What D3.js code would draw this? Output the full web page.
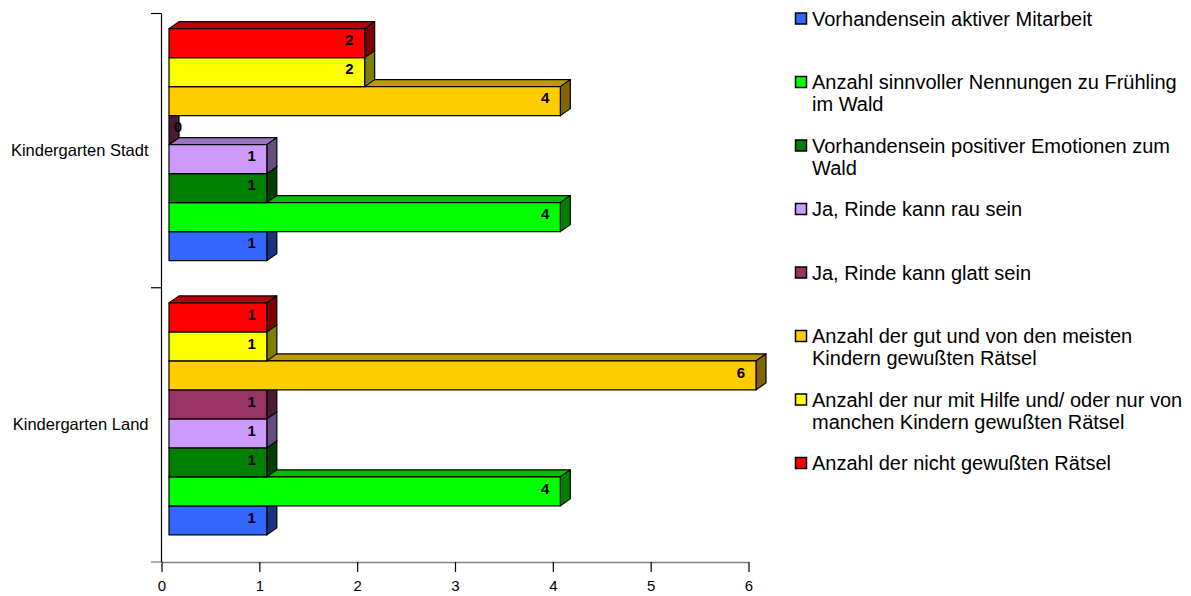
<!DOCTYPE html>
<html>
<head>
<meta charset="utf-8">
<script src="https://cdn.jsdelivr.net/npm/d3@7"></script>
<style>
  html, body { margin: 0; padding: 0; background: #fff; }
  svg { display: block; font-family: "Liberation Sans", Arial, sans-serif; }
</style>
</head>
<body>
<svg id="chart" width="1191" height="596"></svg>
<script>
// Categories, top to bottom
const categories = ["Kindergarten Stadt", "Kindergarten Land"];

// Series (legend order; first series sits at the bottom of each group)
const seriesNames = [
  "Vorhandensein aktiver Mitarbeit",
  "Anzahl sinnvoller Nennungen zu Frühling\nim Wald",
  "Vorhandensein positiver Emotionen zum\nWald",
  "Ja, Rinde kann rau sein",
  "Ja, Rinde kann glatt sein",
  "Anzahl der gut und von den meisten\nKindern gewußten Rätsel",
  "Anzahl der nur mit Hilfe und/ oder nur von\nmanchen Kindern gewußten Rätsel",
  "Anzahl der nicht gewußten Rätsel"
];
const seriesColors = ["#3366FF", "#00FF00", "#008000", "#CC99FF", "#993366", "#FFCC00", "#FFFF00", "#FF0000"];

// Values per category, in series order
const stadtValues = [1, 4, 1, 1, 0, 4, 2, 2];
const landValues  = [1, 4, 1, 1, 1, 6, 1, 1];
const valuesByCategory = { "Kindergarten Stadt": stadtValues, "Kindergarten Land": landValues };

// Value axis ticks
const xTicks = [0, 1, 2, 3, 4, 5, 6];

const svg = d3.select("#chart");

const x = d3.scaleLinear().domain([0, 6]).range([161.5, 748.5]);
const yBand = d3.scaleBand().domain(categories).range([13.5, 562]);

// 3D box geometry
const depthX = 10, depthY = -7;
const frontShift = 7.5;
const barH = 29;

const shade = (c, k) => {
  const r = d3.rgb(c);
  return d3.rgb(r.r * k, r.g * k, r.b * k).formatHex();
};

// Axes
const xAxis = d3.axisBottom(x).tickValues(xTicks).tickFormat(d3.format("d"))
  .tickSize(10).tickSizeOuter(0).tickPadding(8);
const gx = svg.append("g").attr("transform", "translate(0,562)").call(xAxis);
gx.select(".domain").attr("stroke", "#808080").attr("stroke-width", 1.3);
gx.selectAll(".tick line").attr("stroke", "#000").attr("stroke-width", 1.2);
gx.selectAll(".tick text").attr("font-size", 15).attr("fill", "#000")
  .attr("font-family", "Liberation Sans, Arial, sans-serif");

// left extension of the floor line
svg.append("line").attr("x1", 151).attr("x2", 161.5).attr("y1", 562).attr("y2", 562)
  .attr("stroke", "#808080").attr("stroke-width", 1.3);

const yAxis = d3.axisLeft(yBand).tickSize(0).tickPadding(13);
const gy = svg.append("g").attr("transform", "translate(161.5,0)").call(yAxis);
gy.select(".domain").remove();
gy.selectAll(".tick text").attr("font-size", 16.5).attr("fill", "#000")
  .attr("font-family", "Liberation Sans, Arial, sans-serif");

// category axis line and boundary ticks
svg.append("line").attr("x1", 161.5).attr("x2", 161.5).attr("y1", 13.5).attr("y2", 562)
  .attr("stroke", "#000").attr("stroke-width", 1.2);
const bounds = [yBand.range()[0], yBand(categories[1])];
svg.selectAll("line.cattick").data(bounds).join("line").attr("class", "cattick")
  .attr("x1", 151).attr("x2", 161.5).attr("y1", d => d).attr("y2", d => d)
  .attr("stroke", "#000").attr("stroke-width", 1.2);

// Bars
const plot = svg.append("g");
categories.forEach(cat => {
  const vals = valuesByCategory[cat];
  const cy = yBand(cat) + yBand.bandwidth() / 2;
  const inner = d3.scaleBand().domain(d3.range(seriesNames.length).reverse())
    .range([cy - 6 - 4 * barH, cy - 6 + 4 * barH]);
  // draw from the bottom series upward so upper boxes cover lower top faces
  d3.range(seriesNames.length).forEach(i => {
    const v = vals[i];
    const col = seriesColors[i];
    const y0 = inner(i), y1 = y0 + inner.bandwidth();
    const x0 = x(0) + frontShift, x1 = x(v) + frontShift;
    const g = plot.append("g").attr("stroke", "#000").attr("stroke-width", 1.2).attr("stroke-linejoin", "round");
    // top face
    g.append("path")
      .attr("d", `M${x0},${y0}L${x0 + depthX},${y0 + depthY}L${x1 + depthX},${y0 + depthY}L${x1},${y0}Z`)
      .attr("fill", shade(col, 0.75));
    // side face
    g.append("path")
      .attr("d", `M${x1},${y0}L${x1 + depthX},${y0 + depthY}L${x1 + depthX},${y1 + depthY}L${x1},${y1}Z`)
      .attr("fill", shade(col, 0.5));
    // front face
    if (v > 0) {
      g.append("rect").attr("x", x0).attr("y", y0).attr("width", x1 - x0).attr("height", y1 - y0)
        .attr("fill", col);
    }
  });
  // value labels
  d3.range(seriesNames.length).forEach(i => {
    const v = vals[i];
    const y0 = inner(i);
    plot.append("text")
      .attr("x", Math.max(x(v) + frontShift - 11, x(0) + frontShift + 13))
      .attr("y", y0 + inner.bandwidth() / 2 - 3)
      .attr("dy", "0.35em")
      .attr("text-anchor", "end")
      .attr("font-size", 15).attr("font-weight", "bold").attr("fill", "#000")
      .text(v);
  });
});

// Legend
const legend = svg.append("g");
seriesNames.forEach((name, i) => {
  const cy = 18.5 + 63.5 * i;
  legend.append("rect").attr("x", 795.5).attr("y", cy - 5.5).attr("width", 11).attr("height", 11)
    .attr("fill", seriesColors[i]).attr("stroke", "#000").attr("stroke-width", 1.5);
  const t = legend.append("text").attr("font-size", 20).attr("fill", "#000");
  name.split("\n").forEach((line, k) => {
    t.append("tspan").attr("x", 812).attr("y", cy + 22 * k).attr("dy", "0.35em").text(line);
  });
});
</script>
</body>
</html>
